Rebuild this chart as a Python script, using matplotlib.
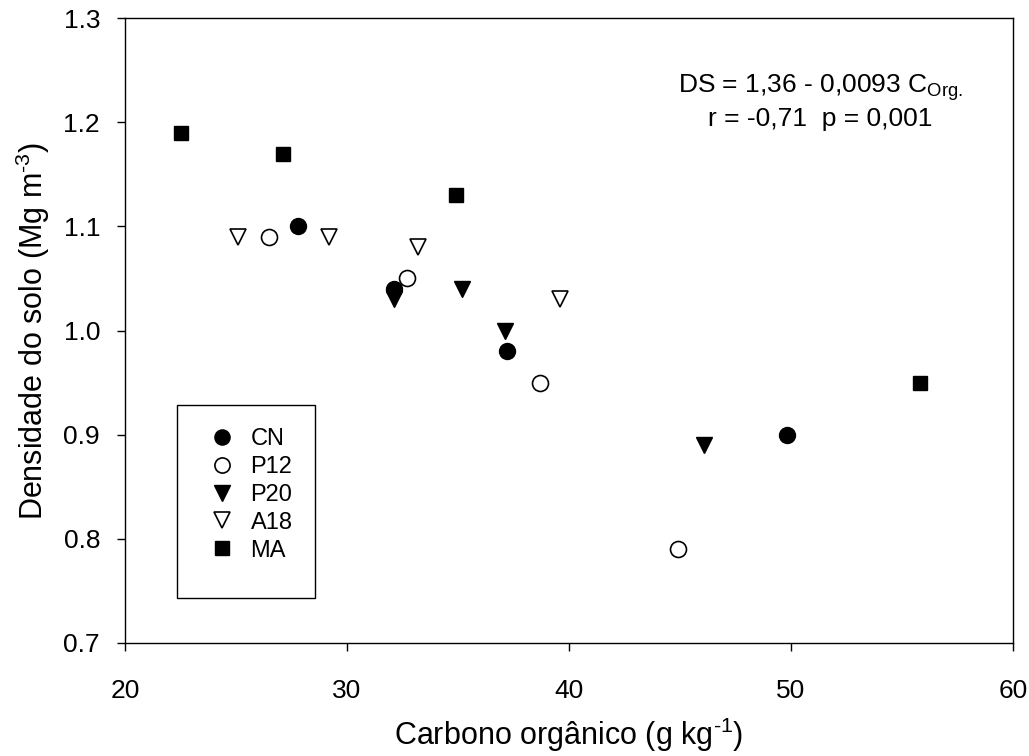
import matplotlib
matplotlib.use('Agg')
import matplotlib.pyplot as plt
from matplotlib.patches import Rectangle

plt.rcParams['font.family'] = 'Liberation Sans'
plt.rcParams['mathtext.fontset'] = 'custom'
plt.rcParams['mathtext.rm'] = 'Liberation Sans'
plt.rcParams['mathtext.it'] = 'Liberation Sans'
plt.rcParams['mathtext.default'] = 'regular'

# carbono organico (g/kg) vs densidade do solo (Mg/m3)
cn_x = [27.8, 32.1, 37.2, 49.8]
cn_y = [1.10, 1.04, 0.98, 0.90]
p12_x = [26.5, 32.7, 38.7, 44.9]
p12_y = [1.09, 1.05, 0.95, 0.79]
p20_x = [32.1, 35.2, 37.1, 46.1]
p20_y = [1.03, 1.04, 1.00, 0.89]
a18_x = [25.1, 29.2, 33.2, 39.6]
a18_y = [1.09, 1.09, 1.08, 1.03]
ma_x = [22.5, 27.1, 34.9, 55.8]
ma_y = [1.19, 1.17, 1.13, 0.95]

fig = plt.figure(figsize=(10.29, 7.56), dpi=100)
ax = fig.add_axes([0.1215, 0.1495, 0.863, 0.8265])

ms = 11.5
ax.plot(cn_x, cn_y, 'o', ms=ms, mfc='black', mec='black', mew=1, label='CN')
ax.plot(p12_x, p12_y, 'o', ms=ms, mfc='white', mec='black', mew=1.2, label='P12')
ax.plot(p20_x, p20_y, 'v', ms=ms, mfc='black', mec='black', mew=1, label='P20')
ax.plot(a18_x, a18_y, 'v', ms=ms, mfc='white', mec='black', mew=1.2, label='A18')
ax.plot(ma_x, ma_y, 's', ms=10.5, mfc='black', mec='black', mew=1, label='MA')

ax.set_xlim(20, 60)
ax.set_ylim(0.7, 1.3)
ax.set_xticks([20, 30, 40, 50, 60])
ax.set_yticks([0.7, 0.8, 0.9, 1.0, 1.1, 1.2, 1.3])
ax.set_yticklabels(['0.7', '0.8', '0.9', '1.0', '1.1', '1.2', '1.3'])
ax.tick_params(direction='out', length=6, width=1, labelsize=19)
ax.tick_params(axis='x', pad=20)
ax.tick_params(axis='y', pad=12)
for s in ax.spines.values():
    s.set_linewidth(1)

ax.set_xlabel(r'Carbono orgânico (g kg$^{\text{-}1}$)', fontsize=22, labelpad=9)
ax.set_ylabel(r'Densidade do solo (Mg m$^{\text{-}3}$)', fontsize=22, labelpad=8)

ax.text(0.783, 0.888, 'DS = 1,36 - 0,0093 C$_{Org.}$', transform=ax.transAxes,
        ha='center', va='center', fontsize=19)
ax.text(0.783, 0.838, 'r = -0,71  p = 0,001', transform=ax.transAxes,
        ha='center', va='center', fontsize=19)

# legend box drawn separately (more room below the entries than above)
ax.add_patch(Rectangle((0.0586, 0.072), 0.1554, 0.309, transform=ax.transAxes,
                       facecolor='white', edgecolor='black', linewidth=1, zorder=4))
leg = ax.legend(loc='upper left', bbox_to_anchor=(0.0935, 0.344), fontsize=17,
                frameon=False, markerscale=0.95,
                handlelength=1.2, handletextpad=0.6, labelspacing=0.25,
                borderpad=0, borderaxespad=0)
leg.set_zorder(5)

plt.savefig('out.png', dpi=100)
